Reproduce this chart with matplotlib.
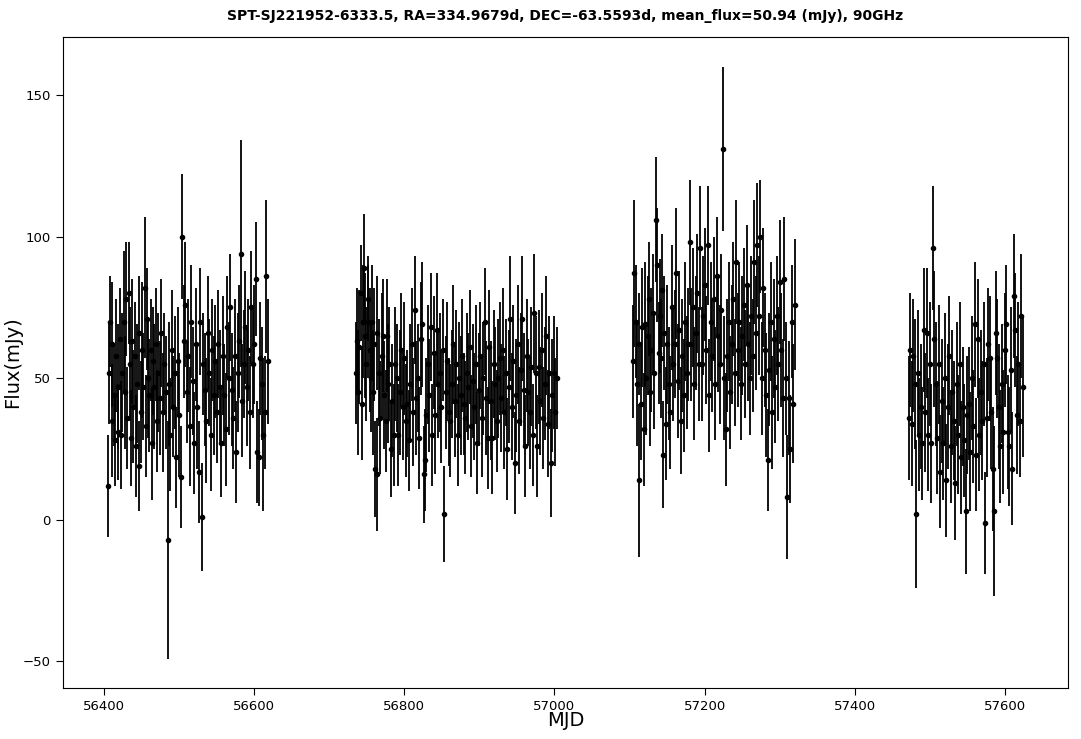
import numpy as np
import matplotlib
matplotlib.use("Agg")
import matplotlib.pyplot as plt

# season 1
mjd_s1 = [56405, 56407, 56408, 56410, 56411, 56413, 56414, 56416, 56418, 56419,
          56421, 56423, 56424, 56426, 56428, 56429, 56431, 56433, 56434, 56436,
          56437, 56439, 56441, 56442, 56444, 56446, 56447, 56449, 56451, 56452,
          56454, 56456, 56457, 56459, 56460, 56462, 56464, 56465, 56467, 56469,
          56470, 56472, 56474, 56476, 56478, 56480, 56482, 56485, 56486, 56488,
          56490, 56492, 56494, 56496, 56498, 56500, 56502, 56504, 56506, 56508,
          56510, 56512, 56514, 56516, 56518, 56520, 56522, 56524, 56526, 56528,
          56530, 56532, 56534, 56536, 56538, 56540, 56542, 56544, 56546, 56548,
          56550, 56552, 56554, 56556, 56558, 56560, 56562, 56564, 56566, 56568,
          56570, 56572, 56574, 56576, 56578, 56580, 56582, 56584, 56586, 56588,
          56590, 56592, 56594, 56596, 56598, 56600, 56602, 56604, 56606, 56608,
          56610, 56612, 56614, 56616, 56618]
flux_s1 = [12, 52, 70, 35, 62, 44, 28, 58, 31, 47,
           64, 30, 52, 70, 45, 78, 36, 80, 55, 29,
           63, 40, 58, 26, 48, 19, 66, 38, 60, 47,
           82, 33, 71, 50, 44, 60, 27, 56, 47, 62,
           35, 52, 43, 66, 38, 55, 45, -7, 48, 30,
           60, 40, 52, 22, 56, 37, 15, 100, 63, 76,
           45, 58, 33, 70, 49, 27, 62, 40, 17, 70,
           1, 55, 46, 35, 66, 52, 30, 60, 44, 56,
           38, 62, 47, 27, 58, 44, 32, 68, 50, 75,
           46, 36, 58, 24, 52, 63, 94, 42, 55, 68,
           47, 60, 38, 75, 55, 62, 85, 24, 22, 57,
           48, 30, 38, 86, 56]
err_s1 = [18, 18, 16, 20, 22, 18, 16, 20, 17, 22,
          18, 19, 21, 25, 20, 20, 18, 18, 20, 17,
          22, 20, 19, 18, 21, 16, 20, 18, 24, 19,
          25, 18, 18, 21, 20, 18, 20, 19, 22, 20,
          18, 21, 20, 19, 21, 18, 20, 42, 22, 20,
          21, 18, 20, 18, 19, 22, 18, 22, 20, 22,
          18, 20, 21, 20, 19, 18, 20, 22, 18, 19,
          19, 18, 20, 22, 20, 19, 20, 18, 21, 20,
          18, 19, 20, 19, 21, 18, 20, 18, 20, 19,
          20, 18, 20, 18, 21, 20, 40, 20, 19, 20,
          21, 18, 20, 20, 19, 21, 20, 18, 17, 20,
          20, 27, 20, 27, 22]

# season 2
mjd_s2 = [56735, 56737, 56738, 56740, 56742, 56743, 56745, 56746, 56748, 56749,
          56751, 56752, 56754, 56755, 56757, 56758, 56760, 56761, 56763, 56764,
          56766, 56768, 56770, 56772, 56773, 56775, 56777, 56778, 56780, 56782,
          56784, 56786, 56788, 56790, 56792, 56794, 56796, 56798, 56800, 56802,
          56804, 56806, 56808, 56810, 56812, 56814, 56816, 56818, 56820, 56822,
          56824, 56826, 56827, 56829, 56831, 56833, 56835, 56837, 56839, 56841,
          56843, 56845, 56847, 56849, 56851, 56853, 56855, 56857, 56859, 56861,
          56863, 56865, 56867, 56869, 56871, 56873, 56875, 56877, 56879, 56881,
          56883, 56885, 56887, 56889, 56891, 56893, 56895, 56897, 56899, 56901,
          56903, 56905, 56907, 56909, 56911, 56913, 56915, 56917, 56919, 56921,
          56923, 56925, 56927, 56929, 56931, 56933, 56935, 56937, 56939, 56941,
          56943, 56945, 56947, 56949, 56951, 56953, 56955, 56957, 56959, 56961,
          56963, 56965, 56967, 56969, 56971, 56973, 56975, 56977, 56979, 56981,
          56983, 56985, 56987, 56989, 56991, 56993, 56995, 56997, 56999, 57001,
          57003]
flux_s2 = [52, 63, 45, 61, 80, 41, 70, 89, 65, 55,
           78, 70, 60, 50, 70, 45, 62, 18, 66, 16,
           52, 36, 58, 65, 44, 35, 65, 48, 55, 25,
           42, 30, 55, 50, 30, 45, 60, 40, 57, 35,
           41, 28, 48, 62, 38, 74, 43, 50, 29, 64,
           69, 16, 21, 37, 55, 44, 68, 30, 59, 37,
           67, 48, 52, 40, 60, 2, 45, 56, 38, 35,
           48, 62, 42, 55, 30, 50, 44, 58, 41, 36,
           52, 47, 61, 33, 49, 40, 55, 27, 46, 58,
           36, 50, 70, 43, 29, 61, 42, 29, 55, 48,
           35, 50, 57, 43, 60, 38, 52, 25, 47, 71,
           40, 56, 20, 44, 62, 35, 53, 71, 46, 26,
           58, 45, 38, 54, 30, 73, 52, 26, 54, 42,
           60, 36, 48, 65, 34, 52, 20, 44, 52, 38,
           50]
err_s2 = [18, 19, 22, 20, 17, 20, 20, 19, 22, 20,
          15, 20, 22, 19, 20, 22, 20, 17, 20, 20,
          19, 20, 22, 20, 19, 18, 20, 21, 20, 17,
          20, 18, 20, 19, 18, 22, 20, 19, 20, 20,
          19, 18, 21, 20, 19, 19, 20, 19, 18, 20,
          22, 17, 18, 20, 21, 20, 19, 18, 20, 21,
          20, 19, 21, 20, 18, 17, 20, 21, 19, 20,
          19, 21, 20, 19, 18, 20, 21, 20, 18, 20,
          21, 19, 20, 18, 20, 19, 21, 18, 20, 19,
          21, 20, 19, 20, 18, 20, 21, 20, 19, 20,
          18, 21, 20, 19, 22, 20, 19, 18, 20, 22,
          19, 20, 18, 20, 21, 19, 20, 22, 20, 18,
          20, 19, 20, 21, 18, 21, 20, 18, 20, 19,
          20, 18, 20, 21, 19, 20, 19, 20, 20, 19,
          18]

# season 3
mjd_s3 = [57105, 57106, 57108, 57110, 57112, 57113, 57115, 57117, 57119, 57120,
          57122, 57124, 57126, 57127, 57129, 57131, 57133, 57135, 57137, 57139,
          57140, 57142, 57143, 57144, 57146, 57148, 57150, 57152, 57154, 57156,
          57158, 57160, 57162, 57164, 57166, 57168, 57170, 57172, 57174, 57176,
          57178, 57180, 57182, 57184, 57186, 57188, 57190, 57192, 57194, 57196,
          57198, 57200, 57202, 57204, 57206, 57208, 57210, 57212, 57214, 57216,
          57218, 57220, 57222, 57224, 57226, 57228, 57230, 57232, 57234, 57236,
          57238, 57240, 57242, 57244, 57246, 57248, 57250, 57252, 57254, 57256,
          57258, 57260, 57262, 57264, 57266, 57268, 57270, 57272, 57274, 57276,
          57278, 57280, 57282, 57284, 57286, 57288, 57290, 57292, 57294, 57296,
          57298, 57300, 57302, 57304, 57306, 57308, 57310, 57312, 57314, 57316,
          57318, 57320]
flux_s3 = [56, 87, 70, 48, 62, 14, 41, 68, 32, 69,
           50, 65, 78, 45, 60, 73, 52, 106, 90, 59,
           72, 57, 81, 23, 66, 34, 62, 48, 38, 75,
           55, 62, 87, 49, 67, 35, 58, 44, 70, 52,
           62, 98, 62, 75, 48, 66, 80, 55, 96, 55,
           72, 83, 60, 97, 44, 70, 58, 78, 48, 86,
           65, 55, 74, 131, 50, 32, 58, 70, 45, 62,
           78, 52, 91, 60, 70, 48, 65, 76, 55, 83,
           62, 50, 72, 58, 91, 66, 97, 72, 100, 50,
           82, 60, 44, 21, 53, 70, 38, 64, 47, 72,
           55, 84, 60, 43, 85, 50, 8, 43, 25, 70,
           41, 76]
err_s3 = [20, 26, 20, 22, 18, 27, 20, 21, 20, 22,
          20, 21, 20, 19, 22, 21, 20, 22, 20, 18,
          20, 21, 20, 19, 20, 20, 21, 20, 20, 22,
          20, 19, 23, 20, 21, 19, 20, 20, 21, 20,
          20, 22, 20, 21, 20, 20, 21, 20, 22, 20,
          21, 20, 19, 21, 20, 21, 20, 22, 20, 21,
          20, 21, 20, 29, 22, 20, 20, 21, 20, 21,
          20, 19, 22, 20, 21, 20, 21, 20, 19, 21,
          20, 20, 21, 20, 22, 20, 22, 21, 20, 20,
          21, 20, 22, 18, 20, 21, 20, 21, 20, 21,
          20, 22, 20, 21, 22, 20, 22, 20, 19, 20,
          21, 23]

# season 4
mjd_s4 = [57472, 57474, 57476, 57478, 57480, 57482, 57484, 57486, 57488, 57490,
          57492, 57494, 57496, 57498, 57500, 57502, 57504, 57506, 57508, 57510,
          57512, 57514, 57516, 57518, 57520, 57522, 57524, 57526, 57528, 57530,
          57532, 57534, 57536, 57538, 57540, 57542, 57544, 57546, 57548, 57550,
          57552, 57554, 57556, 57558, 57560, 57562, 57564, 57566, 57568, 57570,
          57572, 57574, 57576, 57578, 57580, 57582, 57584, 57586, 57588, 57590,
          57592, 57594, 57596, 57598, 57600, 57602, 57604, 57606, 57608, 57610,
          57612, 57614, 57616, 57618, 57620, 57622, 57624]
flux_s4 = [36, 60, 34, 58, 48, 2, 52, 30, 40, 27,
           67, 38, 66, 30, 55, 27, 96, 64, 48, 29,
           55, 17, 42, 27, 50, 14, 40, 58, 26, 45,
           35, 13, 48, 30, 55, 22, 40, 28, 3, 37,
           41, 24, 50, 33, 69, 23, 64, 30, 45, 35,
           55, -1, 36, 62, 57, 38, 18, 3, 66, 57,
           40, 26, 48, 31, 60, 69, 31, 26, 53, 18,
           79, 67, 37, 55, 35, 72, 47]
err_s4 = [22, 20, 22, 20, 23, 26, 22, 20, 22, 20,
          22, 21, 23, 20, 22, 21, 22, 24, 22, 20,
          21, 20, 22, 20, 23, 20, 22, 21, 20, 22,
          21, 20, 22, 21, 22, 20, 21, 20, 22, 21,
          20, 21, 22, 20, 22, 20, 21, 20, 22, 21,
          22, 18, 21, 20, 22, 20, 22, 30, 22, 21,
          22, 20, 21, 22, 20, 21, 20, 21, 22, 20,
          22, 20, 21, 22, 20, 22, 25]

mjd = np.concatenate([mjd_s1, mjd_s2, mjd_s3, mjd_s4])
flux = np.concatenate([flux_s1, flux_s2, flux_s3, flux_s4])
err = np.concatenate([err_s1, err_s2, err_s3, err_s4])

fig = plt.figure(figsize=(10.81, 7.39), dpi=100)
ax = fig.add_axes([0.058, 0.069, 0.93, 0.881])

ax.errorbar(mjd, flux, yerr=err, fmt='o', color='black', ecolor='black',
            markersize=3, elinewidth=1.3, capsize=0)

ax.set_xlim(56345, 57684)
ax.set_ylim(-59.4, 170.5)
ax.set_xticks([56400, 56600, 56800, 57000, 57200, 57400, 57600])
ax.set_yticks([-50, 0, 50, 100, 150])
ax.tick_params(direction='out', length=5, labelsize=9.5)
ax.set_xlabel("MJD", fontsize=14)
ax.set_ylabel("Flux(mJy)", fontsize=14)
ax.xaxis.set_label_coords(0.5, -0.036)
ax.yaxis.set_label_coords(-0.040, 0.5)
ax.set_title("SPT-SJ221952-6333.5, RA=334.9679d, DEC=-63.5593d, mean_flux=50.94 (mJy), 90GHz",
             fontsize=10, fontweight='bold', pad=12)

fig.savefig("out.png", dpi=100)
